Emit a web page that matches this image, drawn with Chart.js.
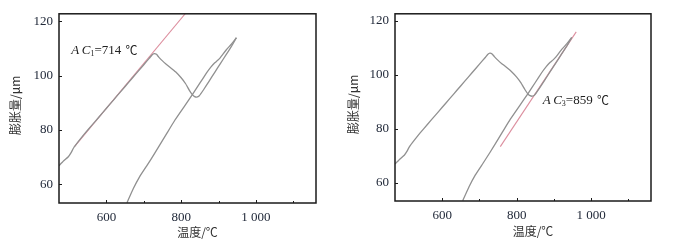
<!DOCTYPE html>
<html>
<head>
<meta charset="utf-8">
<script src="https://cdn.jsdelivr.net/npm/chart.js@4.4.1/dist/chart.umd.min.js"></script>
<style>
html,body{margin:0;padding:0;background:#fff;}
body{width:676px;height:247px;position:relative;overflow:hidden;}
.box{position:absolute;top:0;width:338px;height:247px;}
</style>
</head>
<body>
<div class="box" style="left:0"><canvas id="c1" width="338" height="247"></canvas></div>
<div class="box" style="left:338px"><canvas id="c2" width="338" height="247"></canvas></div>
<script>
// ---- data ----
const heatX = [473,485,498,505,512,525,540,560,580,600,620,640,660,680,700,715,722,728,734,740,750,760,770,785,800,812,822,830,836,842,848,860,875,890,905,920,935,948];
const heatY = [66.9,68.6,70.2,71.6,73.4,75.8,78.4,81.6,84.8,88.0,91.2,94.4,97.6,100.8,104.0,106.4,107.6,108.1,107.8,106.8,105.4,104.2,103.1,101.4,99.2,97.0,94.6,93.0,92.3,92.1,92.5,94.8,98.0,101.2,104.4,107.6,110.8,113.9];
const coolX = [948,935,921,905,898,890,880,868,850,830,810,783,760,729,710,689,672,655];
const coolY = [113.9,111.6,109.5,106.6,105.6,104.7,103.2,101.0,97.2,93.0,89.0,83.6,78.4,71.4,67.3,62.9,58.5,53.3];
const tangent1X = [515,812];
const tangent1Y = [74,122.9];
const tangent3X = [756,960];
const tangent3Y = [73.4,116];
const xTickValues = [600,700,800,900,1000,1100];
const xTickLabels = {600:'600',800:'800',1000:'1 000'};
const yTickValues = [60,80,100,120];
const xRange = [473,1161];
const yRange = [53.2,122.7];
const xTitle = '温度/℃';
const yTitle = '膨胀量/μm';
const ann1 = {x:506, y:109.1, sub:'1', rest:'=714 '};
const ann3 = {x:870, y:90.4, sub:'3', rest:'=859 '};

const pts = (xs, ys) => xs.map((x,i)=>({x:x, y:ys[i]}));

const framePlugin = {
  id:'frame',
  afterDraw(chart, args, opts){
    const ctx = chart.ctx, a = chart.chartArea;
    const xs = chart.scales.x, ys = chart.scales.y;
    ctx.save();
    ctx.strokeStyle = '#1a1a1a';
    ctx.lineWidth = 1.5;
    ctx.strokeRect(a.left, a.top, a.right-a.left, a.bottom-a.top);
    ctx.lineWidth = 1;
    ctx.beginPath();
    xTickValues.forEach(v=>{
      const px = Math.round(xs.getPixelForValue(v))+0.5;
      const len = xTickLabels[v] ? 3 : 2;
      ctx.moveTo(px, a.bottom); ctx.lineTo(px, a.bottom-len);
    });
    yTickValues.forEach(v=>{
      const py = Math.round(ys.getPixelForValue(v))+0.5;
      ctx.moveTo(a.left, py); ctx.lineTo(a.left+3, py);
    });
    ctx.stroke();
    // axis titles
    ctx.fillStyle = '#333';
    ctx.font = '12px "Noto Sans CJK SC"';
    ctx.textAlign = 'center';
    ctx.textBaseline = 'middle';
    ctx.fillText(xTitle, (a.left+a.right)/2 + 10, a.bottom + opts.xTitleOffset);
    ctx.save();
    ctx.translate(a.left - opts.yTitleOffset, (a.top+a.bottom)/2 - 3);
    ctx.rotate(-Math.PI/2);
    ctx.fillText(yTitle, 0, 0);
    ctx.restore();
    // annotation
    const an = opts.ann;
    let x = xs.getPixelForValue(an.x);
    const y = ys.getPixelForValue(an.y);
    ctx.textAlign = 'left';
    ctx.textBaseline = 'middle';
    ctx.fillStyle = '#222';
    ctx.font = 'italic 13px "Liberation Serif"';
    ctx.fillText('A', x, y); x += ctx.measureText('A').width + 2.5;
    ctx.fillText('C', x, y); x += ctx.measureText('C').width;
    ctx.font = '8px "Liberation Serif"';
    ctx.fillText(an.sub, x, y+3); x += ctx.measureText(an.sub).width;
    ctx.font = '13px "Liberation Serif"';
    ctx.fillText(an.rest, x, y); x += ctx.measureText(an.rest).width + 1;
    ctx.font = '12px "Noto Sans CJK SC"';
    ctx.fillText('℃', x, y);
    ctx.restore();
  }
};

const multiplyPlugin = {
  id:'multiply',
  beforeDatasetDraw(chart, args){
    if (chart.data.datasets[args.index].multiply) {
      chart.ctx.save();
      chart.ctx.globalCompositeOperation = 'multiply';
    }
  },
  afterDatasetDraw(chart, args){
    if (chart.data.datasets[args.index].multiply) chart.ctx.restore();
  }
};

function makeChart(id, tx, ty, ann, pad, yW, xH, xTitleOffset, yTitleOffset){
  const gray = {borderColor:'#909090', borderWidth:1.3, pointRadius:0, tension:0.1, fill:false};
  return new Chart(document.getElementById(id), {
    type:'line',
    data:{datasets:[
      Object.assign({data:pts(heatX,heatY)}, gray),
      Object.assign({data:pts(coolX,coolY)}, gray),
      {data:pts(tx,ty), borderColor:'#dc8e9e', borderWidth:1.1, pointRadius:0, fill:false, multiply:true}
    ]},
    options:{
      responsive:false, animation:false,
      layout:{padding:pad},
      plugins:{legend:{display:false}, tooltip:{enabled:false},
        frame:{ann:ann, xTitleOffset:xTitleOffset, yTitleOffset:yTitleOffset}},
      scales:{
        x:{type:'linear', min:xRange[0], max:xRange[1],
          grid:{display:false, drawTicks:false}, border:{display:false},
          afterBuildTicks(s){ s.ticks = xTickValues.map(v=>({value:v})); },
          afterFit(s){ s.height = xH; },
          ticks:{autoSkip:false, maxRotation:0, padding:7, color:'#222a3a',
            font:{family:'"Liberation Serif"', size:13},
            callback:(v)=> xTickLabels[v] || ''}
        },
        y:{type:'linear', min:yRange[0], max:yRange[1],
          grid:{display:false, drawTicks:false}, border:{display:false},
          afterBuildTicks(s){ s.ticks = yTickValues.map(v=>({value:v})); },
          afterFit(s){ s.width = yW; },
          ticks:{autoSkip:false, padding:6, color:'#222a3a',
            font:{family:'"Liberation Serif"', size:13},
            callback:(v)=> String(v)}
        }
      }
    },
    plugins:[multiplyPlugin, framePlugin]
  });
}

makeChart('c1', tangent1X, tangent1Y, ann1, {top:13, right:22, bottom:0, left:0}, 59, 44, 29, 44);
makeChart('c2', tangent3X, tangent3Y, ann3, {top:10, right:25, bottom:0, left:0}, 57, 46, 30, 42);
</script>
</body>
</html>
